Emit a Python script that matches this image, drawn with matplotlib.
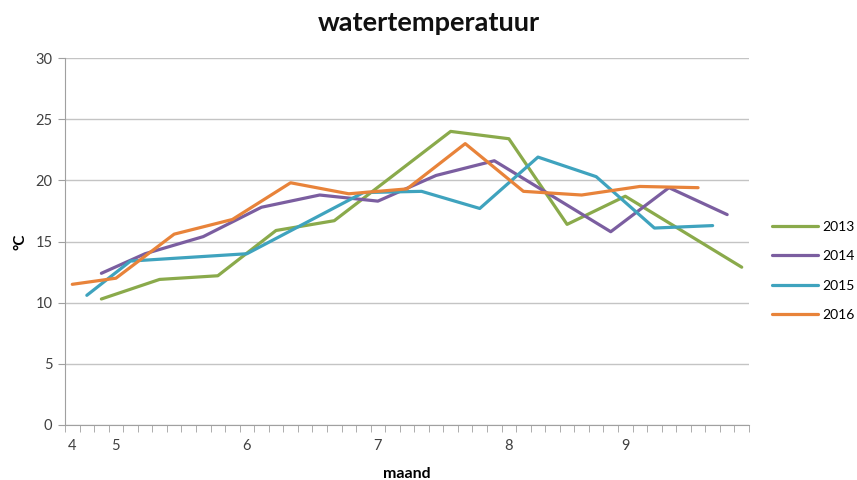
import numpy as np
import matplotlib
matplotlib.use('Agg')
import matplotlib.pyplot as plt

plt.rcParams['font.family'] = ['Lato', 'DejaVu Sans']

# categorie-as: 47 weken, alleen het begin van elke maand krijgt een label
n_weken = 47
maand_pos = [0, 3, 12, 21, 30, 38]
maand_labels = ['4', '5', '6', '7', '8', '9']

week_2013 = [2, 6, 10, 14, 18, 26, 30, 34, 38, 46]
temp_2013 = [10.3, 11.9, 12.2, 15.9, 16.7, 24.0, 23.4, 16.4, 18.7, 12.9]

week_2014 = [2, 5, 9, 13, 17, 21, 25, 29, 37, 41, 45]
temp_2014 = [12.4, 14.0, 15.4, 17.8, 18.8, 18.3, 20.4, 21.6, 15.8, 19.4, 17.2]

week_2015 = [1, 4, 12, 20, 24, 28, 32, 36, 40, 44]
temp_2015 = [10.6, 13.4, 14.0, 19.0, 19.1, 17.7, 21.9, 20.3, 16.1, 16.3]

week_2016 = [0, 3, 7, 11, 15, 19, 23, 27, 31, 35, 39, 43]
temp_2016 = [11.5, 12.0, 15.6, 16.8, 19.8, 18.9, 19.3, 23.0, 19.1, 18.8, 19.5, 19.4]

series = [
    ('2013', week_2013, temp_2013, '#8AAA4B'),
    ('2014', week_2014, temp_2014, '#7B5EA0'),
    ('2015', week_2015, temp_2015, '#3FA3BE'),
    ('2016', week_2016, temp_2016, '#E8833A'),
]

fig = plt.figure(figsize=(8.57, 4.8), dpi=100)
ax = fig.add_axes([65 / 857, 1 - 425 / 480, 684 / 857, 367 / 480])

for naam, wk, tmp, kleur in series:
    ax.plot(wk, tmp, color=kleur, linewidth=2.3, label=naam, solid_capstyle='round')

ax.set_xlim(-0.5, n_weken - 0.5)
ax.set_ylim(0, 30)
ax.set_yticks(np.arange(0, 31, 5))
ax.yaxis.grid(True, color='#c4c4c4', linewidth=1)
ax.set_axisbelow(True)

ax.set_xticks(maand_pos)
ax.set_xticklabels(maand_labels)
ax.set_xticks(np.arange(-0.5, n_weken, 1), minor=True)
ax.tick_params(axis='x', which='major', length=0, pad=10, labelsize=10.5, labelcolor='#404040')
ax.tick_params(axis='x', which='minor', length=5, color='#a0a0a0', direction='out')
ax.tick_params(axis='y', length=5, color='#a0a0a0', labelsize=10.5, labelcolor='#404040', pad=4)

for s in ['top', 'right']:
    ax.spines[s].set_visible(False)
for s in ['left', 'bottom']:
    ax.spines[s].set_color('#a0a0a0')

ax.set_ylabel('°C', fontsize=11, fontweight='bold', labelpad=6)
ax.set_xlabel('maand', fontsize=11.5, fontweight='bold', labelpad=10)

fig.text(0.5, 0.953, 'watertemperatuur', ha='center', va='center',
         fontsize=19.5, fontweight='bold', color='#111111')

ax.legend(loc='center left', bbox_to_anchor=(1.022, 0.42), frameon=False,
          fontsize=10, handlelength=3.3, handletextpad=0.3, labelspacing=1.25,
          borderaxespad=0.2)

fig.savefig('out.png', dpi=100)
